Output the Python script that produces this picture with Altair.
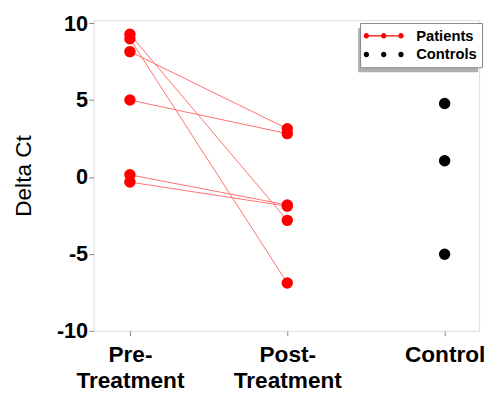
import altair as alt
import pandas as pd

# ---- data ----
stage_pos = [1, 2, 3]
stage_labels = [["Pre-", "Treatment"], ["Post-", "Treatment"], ["Control"]]
patient_ids = [1, 2, 3, 4, 5, 6]
pre_values = [9.28, 8.98, 8.15, 5.0, 0.14, -0.33]
post_values = [-2.82, -6.89, 3.14, 2.82, -1.82, -1.90]
control_values = [4.78, 1.05, -5.02]
y_ticks = [-10, -5, 0, 5, 10]
groups = ["Patients", "Controls"]
group_colors = ["#ff0000", "#000000"]

# ---- tables ----
rows = []
for pid, a, b in zip(patient_ids, pre_values, post_values):
    rows.append({"pid": pid, "x": stage_pos[0], "y": a, "group": groups[0]})
    rows.append({"pid": pid, "x": stage_pos[1], "y": b, "group": groups[0]})
patients = pd.DataFrame(rows)
controls = pd.DataFrame({"x": [stage_pos[2]] * len(control_values),
                         "y": control_values,
                         "group": [groups[1]] * len(control_values)})
legend_src = pd.DataFrame({"group": groups, "x": [stage_pos[0]] * 2, "y": [0, 0]})

def js_label(lab):
    if len(lab) == 1:
        return "'" + lab[0] + "'"
    return "[" + ",".join("'" + s + "'" for s in lab) + "]"

label_expr = ""
for p, lab in zip(stage_pos[:-1], stage_labels[:-1]):
    label_expr += f"datum.value == {p} ? {js_label(lab)} : "
label_expr += js_label(stage_labels[-1])

FONT = "Liberation Sans"

xscale = alt.Scale(domain=[0.769, 3.219], nice=False, zero=False)
yscale = alt.Scale(domain=[-10, 10.2], nice=False, zero=False)

xaxis = alt.Axis(values=stage_pos, labelExpr=label_expr, title=None, grid=False,
                 domain=False, tickColor="#888888", tickSize=5, tickWidth=1,
                 labelFont=FONT, labelFontSize=23, labelFontWeight="bold",
                 labelColor="black", labelLineHeight=27, labelPadding=8,
                 labelFlush=False, labelOverlap=False, labelBound=False)
yaxis = alt.Axis(values=y_ticks, labelExpr="'' + datum.value", title="Delta Ct",
                 grid=False, domain=False, tickColor="#888888", tickSize=5,
                 tickWidth=1, labelFont=FONT, labelFontSize=22,
                 labelFontWeight="bold", labelColor="black", labelPadding=1,
                 labelFlush=False, titleFont=FONT, titleFontSize=23,
                 titleFontWeight="normal", titleColor="black", titlePadding=21)

# legend symbols: a red line with three dots, and three black dots
def dots_path(with_line):
    cs = [-2.2, 0.0, 2.2]
    r = 0.34
    s = "M-2.2,-0.08L2.2,-0.08L2.2,0.08L-2.2,0.08Z" if with_line else ""
    for c in cs:
        s += f"M{c - r},0a{r},{r} 0 1,1 {2 * r},0a{r},{r} 0 1,1 {-2 * r},0Z"
    return s

legend = alt.Legend(
    title=None, orient="none", legendX=271, legendY=3,
    fillColor="white", strokeColor="#888888", padding=5,
    labelFont=FONT, labelFontSize=15, labelFontWeight="bold", labelColor="black",
    symbolSize=256, symbolOffset=11, labelOffset=25, rowPadding=3,
    symbolOpacity=1, symbolStrokeWidth=0,
)

shadow = alt.Chart(pd.DataFrame({"k": [0]})).mark_rect(color="#b0b0b0").encode(
    x=alt.value(269), x2=alt.value(391), y=alt.value(8), y2=alt.value(53))

X = alt.X("x:Q", scale=xscale, axis=xaxis)
Y = alt.Y("y:Q", scale=yscale, axis=yaxis)

lines = alt.Chart(patients).mark_line(color="#ff7070", strokeWidth=1).encode(
    x=X, y=Y, detail="pid:N")

patient_dots = alt.Chart(patients).mark_circle(size=135, opacity=1,
                                               color=group_colors[0]).encode(x=X, y=Y)
control_dots = alt.Chart(controls).mark_circle(size=135, opacity=1,
                                               color=group_colors[1]).encode(x=X, y=Y)

legend_layer = alt.Chart(legend_src).transform_filter("false").mark_point(
    filled=True, opacity=1).encode(
    x=X, y=Y,
    color=alt.Color("group:N", scale=alt.Scale(domain=groups, range=group_colors),
                    legend=legend),
    shape=alt.Shape("group:N", scale=alt.Scale(domain=groups,
                                               range=[dots_path(True), dots_path(False)]),
                    legend=legend),
)

chart = alt.layer(shadow, lines, patient_dots, control_dots, legend_layer).properties(
    width=392, height=316,
    autosize=alt.AutoSizeParams(type="none"),
    padding={"left": 87, "top": 9, "right": 6, "bottom": 63},
).configure_view(stroke="#888888", strokeWidth=1.5).configure(font=FONT)

chart.save("out.html", embed_options={"renderer": "svg", "actions": False})
